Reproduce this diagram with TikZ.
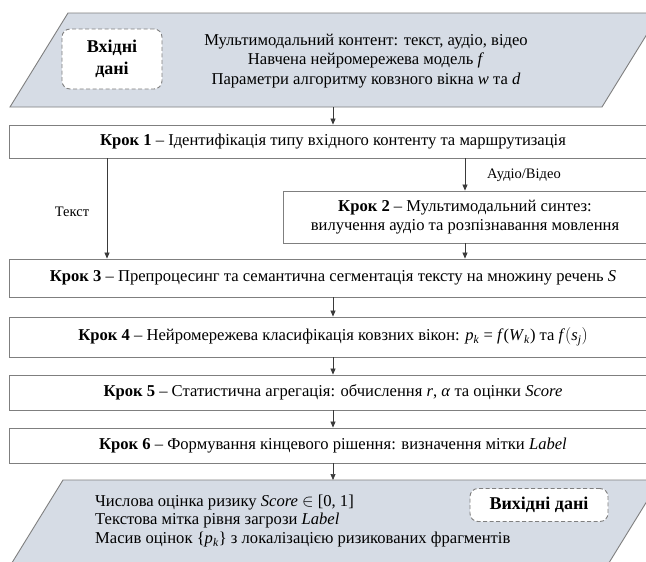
\documentclass[tikz,border=0pt]{standalone}
\usepackage{fontspec}
\setmainfont{Liberation Serif}
\usetikzlibrary{arrows.meta}
\definecolor{pfill}{HTML}{D6DCE5}
\definecolor{bord}{HTML}{7F7F7F}
\definecolor{arr}{HTML}{3A3A3A}
\newcommand{\vv}[1]{\textit{#1}}
\newcommand{\vsub}[2]{\textit{#1}\textsubscript{\textit{#2}}}
\begin{document}
\begin{tikzpicture}[x=1pt,y=-1pt,
  font=\fontsize{16.6}{19}\selectfont,
  stepbox/.style={draw=bord, line width=0.9pt, fill=white, inner sep=0pt, anchor=center},
  tagbox/.style={draw=bord, line width=0.9pt, fill=white, dash pattern=on 4pt off 2.5pt, rounded corners=8pt, inner sep=0pt, font=\fontsize{18}{22}\selectfont\bfseries, align=center},
  para/.style={draw=bord, line width=0.9pt, fill=pfill},
  conn/.style={draw=arr, line width=0.7pt, -{Triangle[length=6pt,width=5pt]}},
  lbl/.style={font=\fontsize{14.5}{16}\selectfont, inner sep=0pt}]
\useasboundingbox (0,0) rectangle (646,562);
\clip (0,0) rectangle (646,562);
\fill[white] (0,0) rectangle (646,562);
% top parallelogram
\draw[para] (68,13) -- (660,13) -- (602,107) -- (10,107) -- cycle;
\coordinate (p1b) at (333,107);
\node[tagbox, minimum width=100pt, minimum height=60pt] (vin) at (112,59) {Вхідні\\дані};
\node[align=center, inner sep=0pt, font=\fontsize{16.6}{19.5}\selectfont] (tin) at (366,61)
 {Мультимодальний контент: текст, аудіо, відео\\
  Навчена нейромережева модель \vv{f}\\
  Параметри алгоритму ковзного вікна \vv{w} та \vv{d}};
% steps
\node[stepbox, minimum width=648pt, minimum height=33pt] (k1) at (333,141.5)
 {\textbf{Крок 1} -- Ідентифікація типу вхідного контенту та маршрутизація};
\node[stepbox, minimum width=364pt, minimum height=52pt, align=center, font=\fontsize{16.6}{19.5}\selectfont] (k2) at (465,217)
 {\textbf{Крок 2} -- Мультимодальний синтез:\\вилучення аудіо та розпізнавання мовлення};
\node[stepbox, minimum width=648pt, minimum height=38pt] (k3) at (333,278)
 {\textbf{Крок 3} -- Препроцесинг та семантична сегментація тексту на множину речень \vv{S}};
\node[stepbox, minimum width=648pt, minimum height=40pt] (k4) at (333,337)
 {\textbf{Крок 4} -- Нейромережева класифікація ковзних вікон: \vsub{p}{k} = \vv{f}(\vsub{W}{k}) та \vv{f}$\bigl($\vsub{s}{j}$\bigr)$};
\node[stepbox, minimum width=648pt, minimum height=35pt] (k5) at (333,392.5)
 {\textbf{Крок 5} -- Статистична агрегація: обчислення \vv{r}, \vv{α} та оцінки \vv{Score}};
\node[stepbox, minimum width=648pt, minimum height=35pt] (k6) at (333,445.5)
 {\textbf{Крок 6} -- Формування кінцевого рішення: визначення мітки \vv{Label}};
% bottom parallelogram
\draw[para] (63,480) -- (660,480) -- (607,566) -- (10,566) -- cycle;
\coordinate (p2t) at (333,480);
\node[align=left, anchor=west, inner sep=0pt, font=\fontsize{16.6}{18.5}\selectfont] (tout) at (95,521)
 {Числова оцінка ризику \vv{Score} $\in$ [0, 1]\\
  Текстова мітка рівня загрози \vv{Label}\\
  Масив оцінок \{\vsub{p}{k}\} з локалізацією ризикованих фрагментів};
\node[tagbox, minimum width=138pt, minimum height=33pt] (vout) at (539,505) {Вихідні дані};
% connectors
\coordinate (tx) at (107,0);
\coordinate (ax) at (465,0);
\draw[conn] (p1b) -- (p1b |- k1.north);
\draw[conn] (k1.south -| tx) -- (k3.north -| tx);
\draw[conn] (k1.south -| ax) -- (k2.north -| ax);
\draw[conn] (k2.south -| ax) -- (k3.north -| ax);
\draw[conn] (k3.south) -- (k4.north);
\draw[conn] (k4.south) -- (k5.north);
\draw[conn] (k5.south) -- (k6.north);
\draw[conn] (k6.south) -- (p2t);
\node[lbl] (lt) at (72,212) {Текст};
\node[lbl, anchor=west] (la) at (487,175) {Аудіо/Відео};
\end{tikzpicture}
\end{document}
